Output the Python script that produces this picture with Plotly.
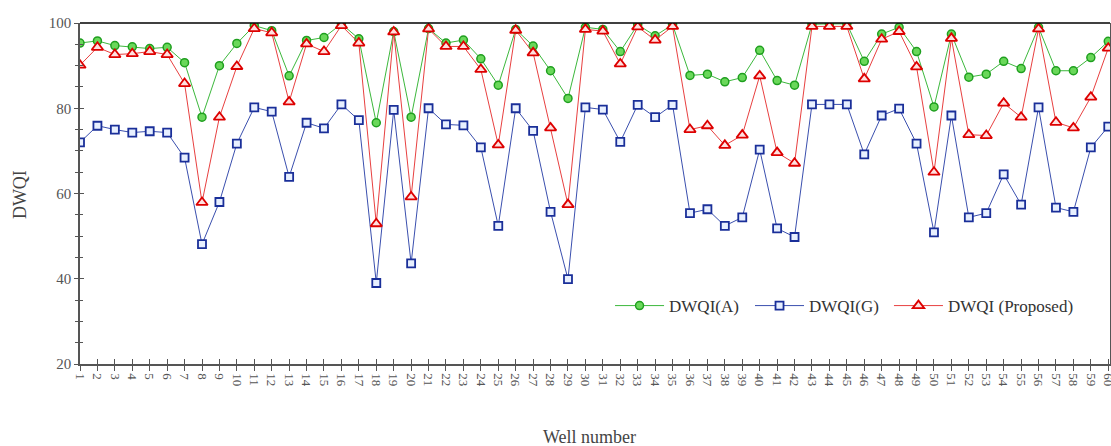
import plotly.graph_objects as go

wells = list(range(1, 61))

dwqi_a = [95.3, 95.8, 94.7, 94.4, 94.0, 94.3, 90.7, 77.9, 90.0, 95.2,
          99.4, 98.2, 87.6, 95.9, 96.6, 99.8, 96.3, 76.6, 98.0, 77.9,
          98.7, 95.3, 96.0, 91.6, 85.4, 98.5, 94.6, 88.8, 82.3, 99.0,
          98.5, 93.3, 99.6, 97.0, 99.6, 87.7, 88.0, 86.2, 87.2, 93.6,
          86.5, 85.4, 99.7, 99.8, 99.8, 91.0, 97.4, 99.0, 93.3, 80.3,
          97.4, 87.3, 88.0, 91.0, 89.3, 99.0, 88.8, 88.8, 91.9, 95.7]

dwqi_g = [72.0, 75.9, 75.0, 74.3, 74.6, 74.3, 68.4, 48.1, 58.0, 71.7,
          80.2, 79.2, 63.9, 76.6, 75.3, 80.9, 77.2, 39.0, 79.6, 43.6,
          80.0, 76.2, 76.0, 70.8, 52.4, 80.0, 74.7, 55.7, 39.9, 80.2,
          79.7, 72.1, 80.8, 77.9, 80.8, 55.4, 56.3, 52.4, 54.4, 70.3,
          51.8, 49.8, 80.9, 80.9, 80.9, 69.2, 78.3, 79.9, 71.7, 50.9,
          78.3, 54.4, 55.4, 64.5, 57.4, 80.2, 56.7, 55.7, 70.8, 75.7]

dwqi_p = [90.1, 94.3, 92.6, 92.8, 93.3, 92.6, 85.8, 57.9, 77.9, 89.8,
          98.7, 97.7, 81.5, 95.1, 93.3, 99.4, 95.3, 52.9, 97.9, 59.2,
          98.6, 94.5, 94.5, 89.1, 71.4, 98.3, 93.0, 75.4, 57.4, 98.5,
          98.1, 90.4, 99.1, 96.0, 99.2, 75.0, 75.9, 71.3, 73.7, 87.6,
          69.6, 67.1, 99.2, 99.2, 99.2, 86.9, 96.2, 98.0, 89.7, 65.0,
          96.4, 73.8, 73.6, 81.2, 77.9, 98.6, 76.7, 75.4, 82.6, 94.1]

y_ticks = [20, 40, 60, 80, 100]

serif = "Liberation Serif, Times New Roman, serif"

fig = go.Figure()
fig.add_trace(go.Scatter(
    x=wells, y=dwqi_a, name="DWQI(A)", mode="lines+markers", legend="legend",
    line=dict(color="#3cb83c", width=1),
    marker=dict(symbol="circle", size=8, color="#6ad85a",
                line=dict(color="#1f9f1f", width=1.5)),
))
fig.add_trace(go.Scatter(
    x=wells, y=dwqi_g, name="DWQI(G)", mode="lines+markers", legend="legend2",
    line=dict(color="#3a4fae", width=1),
    marker=dict(symbol="square", size=8, color="#e8f0ff",
                line=dict(color="#1a2f99", width=1.8)),
))
fig.add_trace(go.Scatter(
    x=wells, y=dwqi_p, name="DWQI (Proposed)", mode="lines+markers", legend="legend3",
    line=dict(color="#e84040", width=1),
    marker=dict(symbol="triangle-up", size=10, color="#ffe0e0",
                line=dict(color="#dd0000", width=1.8)),
))
# invisible trace on overlay axes to carry the inner half of the crossing ticks
fig.add_trace(go.Scatter(x=[wells[0], wells[-1]], y=[y_ticks[0], y_ticks[0]],
                         xaxis="x2", yaxis="y2",
                         mode="markers", marker=dict(opacity=0), showlegend=False,
                         hoverinfo="skip"))

leg_common = dict(y=0.17, xanchor="left", yanchor="middle", orientation="h",
                  bgcolor="rgba(0,0,0,0)", itemwidth=49,
                  font=dict(family=serif, size=17, color="#333333"))

fig.update_layout(
    width=1111, height=446,
    margin=dict(l=80, r=1, t=23, b=82, autoexpand=False),
    plot_bgcolor="white", paper_bgcolor="white",
    font=dict(family=serif, color="#444444"),
    showlegend=True,
    legend=dict(x=0.5146, **leg_common),
    legend2=dict(x=0.6505, **leg_common),
    legend3=dict(x=0.7854, **leg_common),
    xaxis=dict(
        range=[1, 60.1], tickmode="array", tickvals=wells,
        ticktext=[str(w) for w in wells], tickangle=90,
        tickfont=dict(family=serif, size=13, color="#555555"),
        ticklabeloverflow="allow",
        ticks="outside", ticklen=5, tickcolor="#555555", tickwidth=1,
        showline=True, linecolor="#555555", linewidth=1.5,
        showgrid=False, zeroline=False, automargin=False,
    ),
    xaxis2=dict(overlaying="x", matches="x", anchor="y", side="bottom",
                tickmode="array", tickvals=wells, showticklabels=False,
                ticks="inside", ticklen=5, tickcolor="#555555", tickwidth=1,
                showline=False, showgrid=False, zeroline=False, automargin=False),
    yaxis=dict(
        range=[20, 100], tickmode="array", tickvals=y_ticks,
        tickfont=dict(family=serif, size=15, color="#555555"),
        ticks="outside", ticklen=4, tickcolor="#555555", tickwidth=1,
        minor=dict(dtick=5, ticks="outside", ticklen=3, tickcolor="#555555"),
        showline=True, linecolor="#555555", linewidth=1.5, mirror=True,
        showgrid=False, zeroline=False, automargin=False,
    ),
    yaxis2=dict(overlaying="y", matches="y", anchor="x", side="left",
                tickmode="array", tickvals=y_ticks,
                showticklabels=False, ticks="inside", ticklen=4,
                tickcolor="#555555",
                minor=dict(dtick=5, ticks="inside", ticklen=3, tickcolor="#555555"),
                showline=False, showgrid=False, zeroline=False, automargin=False),
    shapes=[dict(type="line", xref="paper", yref="paper", x0=0, x1=1, y0=1, y1=1,
                 line=dict(color="black", width=1.5), layer="above")],
    annotations=[
        dict(text="Well number", xref="paper", yref="paper", x=0.495, y=-0.214,
             xanchor="center", yanchor="middle", showarrow=False,
             font=dict(family=serif, size=18, color="#444444")),
        dict(text="DWQI", xref="paper", yref="paper", x=-0.058, y=0.496,
             xanchor="center", yanchor="middle", showarrow=False, textangle=-90,
             font=dict(family=serif, size=18, color="#444444")),
    ],
)

fig.write_html("out.html", config={"displayModeBar": False},
               post_script="document.body.style.margin='0';document.body.style.overflow='hidden';")
